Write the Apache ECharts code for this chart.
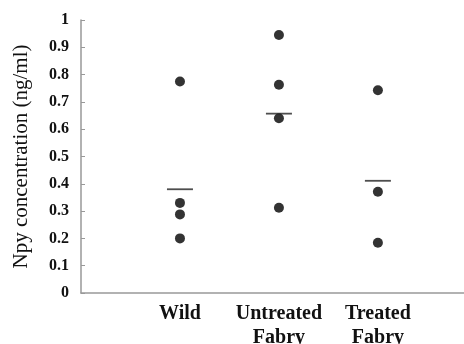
<!DOCTYPE html>
<html><head><meta charset="utf-8">
<script src="https://cdn.jsdelivr.net/npm/echarts@6/dist/echarts.min.js"></script>
<style>html,body{margin:0;padding:0;background:#fff}#c{width:464px;height:344px}</style>
</head><body><div id="c"></div>
<script>
const categories = ['Wild', 'Untreated\nFabry', 'Treated\nFabry'];
const wildValues = [0.775, 0.33, 0.288, 0.20];
const untreatedValues = [0.945, 0.763, 0.64, 0.312];
const treatedValues = [0.743, 0.371, 0.184];
const meanValues = [0.38, 0.657, 0.411];
const yTicks = [0, 0.1, 0.2, 0.3, 0.4, 0.5, 0.6, 0.7, 0.8, 0.9, 1];

const groups = [wildValues, untreatedValues, treatedValues];
const pointData = [];
groups.forEach((g, i) => g.forEach(v => pointData.push([i + 1, v])));
const meanData = meanValues.map((v, i) => [i + 1, v]);

const chart = echarts.init(document.getElementById('c'));
chart.setOption({
  animation: false,
  grid: { left: 81, right: 0, top: 20, bottom: 51, outerBoundsMode: 'none', containLabel: false },
  xAxis: {
    type: 'value', min: 0, max: 3.87, interval: 1,
    axisLine: { show: true, lineStyle: { color: '#999', width: 1.5 } },
    axisTick: { show: false },
    splitLine: { show: false },
    axisLabel: {
      showMinLabel: false, showMaxLabel: false,
      formatter: v => (v >= 1 && v <= 3 && Number.isInteger(v)) ? categories[v - 1] : '',
      fontFamily: 'Liberation Serif', fontWeight: 'bold', fontSize: 20,
      color: '#111', margin: 9, lineHeight: 24, verticalAlign: 'top'
    }
  },
  yAxis: {
    type: 'value', min: 0, max: 1, interval: 0.1,
    name: 'Npy concentration (ng/ml)', nameLocation: 'middle', nameGap: 49,
    nameTextStyle: { fontFamily: 'Liberation Serif', fontSize: 21, color: '#111' },
    axisLine: { show: true, lineStyle: { color: '#999', width: 1.5 } },
    axisTick: { show: true, inside: true, length: 4, lineStyle: { color: '#999' } },
    splitLine: { show: false },
    axisLabel: {
      formatter: v => { const t = yTicks.find(x => Math.abs(x - v) < 1e-6); return t === undefined ? '' : String(t); },
      fontFamily: 'Liberation Serif', fontWeight: 'bold', fontSize: 16, color: '#111', margin: 12
    }
  },
  series: [
    { type: 'scatter', data: pointData, symbol: 'circle', symbolSize: 10, itemStyle: { color: '#000' } },
    { type: 'scatter', data: meanData, symbol: 'rect', symbolSize: [26, 1.8], itemStyle: { color: '#222' }, z: 3 }
  ]
});
</script></body></html>
